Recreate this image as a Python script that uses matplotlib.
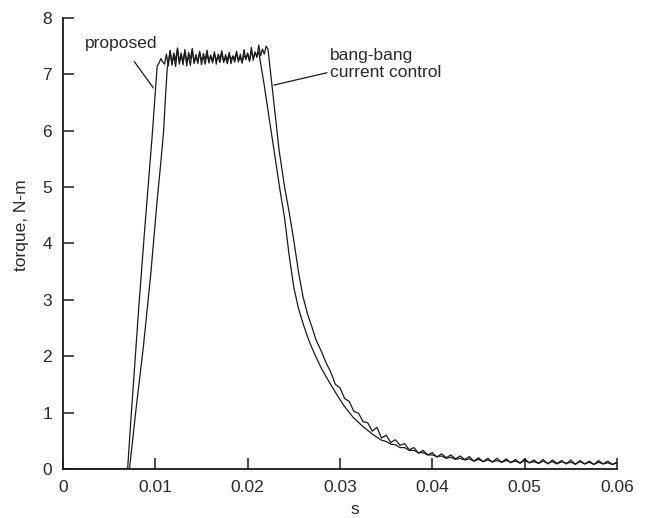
import numpy as np
import matplotlib
matplotlib.use("Agg")
import matplotlib.pyplot as plt

plt.rcParams['font.family'] = ['Liberation Sans', 'DejaVu Sans']

# ---------------- data ----------------
# proposed controller
prop_rise_t = [0.0, 0.0070, 0.0073, 0.0076, 0.0079, 0.0082, 0.0085, 0.0088, 0.0091,
               0.0094, 0.0097, 0.0100, 0.0102, 0.0104, 0.0106, 0.0108]
prop_rise_v = [0, 0, 0.75, 1.45, 2.16, 2.85, 3.5, 4.15, 4.77, 5.4, 6.0, 6.7, 7.15, 7.2, 7.28, 7.22]
prop_plateau_v = [7.18, 7.36, 7.15, 7.42, 7.20, 7.33, 7.14, 7.45, 7.22, 7.38,
                  7.17, 7.40, 7.24, 7.31, 7.16, 7.43, 7.21, 7.35, 7.19, 7.39,
                  7.25, 7.30, 7.18, 7.37, 7.23, 7.33, 7.20, 7.36, 7.26, 7.31,
                  7.21, 7.38, 7.24, 7.29, 7.19, 7.35, 7.27, 7.32, 7.22, 7.37,
                  7.25, 7.30, 7.21, 7.34, 7.28, 7.36, 7.24, 7.41, 7.30, 7.38,
                  7.33]
prop_plateau_span = (0.0110, 0.0210)
prop_fall_t = [0.0212, 0.0218, 0.0224, 0.0229, 0.0235, 0.0240, 0.0245, 0.0250, 0.0255,
               0.0260, 0.0266, 0.0273, 0.0280, 0.0287, 0.0295, 0.0304, 0.0314, 0.0325, 0.0335]
prop_fall_v = [7.40, 6.80, 6.15, 5.60, 4.95, 4.45, 3.78, 3.22, 2.85,
               2.58, 2.29, 2.02, 1.78, 1.58, 1.36, 1.13, 0.92, 0.75, 0.62]
prop_tail_v = [0.51, 0.49, 0.44, 0.43, 0.38, 0.38, 0.33, 0.33, 0.29, 0.29,
               0.25, 0.25, 0.22, 0.23, 0.19, 0.21, 0.17, 0.19, 0.16, 0.18,
               0.14, 0.17, 0.13, 0.16, 0.13, 0.15, 0.12, 0.15, 0.12, 0.14,
               0.11, 0.15, 0.11, 0.13, 0.10, 0.14, 0.10, 0.13, 0.09, 0.13,
               0.10, 0.12, 0.09, 0.13, 0.09, 0.12, 0.08, 0.12, 0.09, 0.11,
               0.08, 0.11]
prop_tail_span = (0.0345, 0.0600)

# bang-bang current control
bb_rise_t = [0.0, 0.0072, 0.0075, 0.0079, 0.0083, 0.0087, 0.0091, 0.0095, 0.0099,
             0.0102, 0.0106, 0.0109, 0.0111, 0.0113]
bb_rise_v = [0, 0, 0.45, 1.05, 1.6, 2.16, 2.8, 3.45, 4.2, 4.77, 5.45, 6.0, 6.6, 7.13]
bb_plateau_v = [7.20, 7.42, 7.16, 7.38, 7.25, 7.47, 7.18, 7.35, 7.22, 7.44,
                7.15, 7.39, 7.27, 7.46, 7.19, 7.33, 7.23, 7.41, 7.17, 7.37,
                7.26, 7.43, 7.20, 7.34, 7.24, 7.40, 7.18, 7.36, 7.28, 7.42,
                7.21, 7.35, 7.25, 7.39, 7.19, 7.33, 7.27, 7.41, 7.22, 7.36,
                7.20, 7.44, 7.26, 7.38, 7.23, 7.48, 7.25, 7.40, 7.30, 7.52,
                7.33, 7.45, 7.36, 7.50]
bb_plateau_span = (0.0114, 0.0220)
bb_fall_t = [0.0222, 0.0228, 0.0234, 0.0240, 0.0245, 0.0250, 0.0255, 0.0260, 0.0265,
             0.0270, 0.0274]
bb_fall_v = [7.45, 6.55, 5.66, 5.00, 4.55, 4.05, 3.50, 3.05, 2.74, 2.50, 2.29]
bb_tail_v = [2.08, 1.88, 1.72, 1.50, 1.44, 1.25, 1.20, 1.02, 0.99, 0.84,
             0.82, 0.67, 0.74, 0.55, 0.60, 0.47, 0.52, 0.42, 0.45, 0.34,
             0.38, 0.28, 0.33, 0.25, 0.29, 0.21, 0.27, 0.20, 0.25, 0.18,
             0.23, 0.17, 0.22, 0.14, 0.20, 0.13, 0.19, 0.12, 0.19, 0.12,
             0.18, 0.11, 0.17, 0.10, 0.18, 0.11, 0.16, 0.10, 0.17, 0.09,
             0.16, 0.10, 0.15, 0.09, 0.16, 0.08, 0.15, 0.09, 0.14, 0.08,
             0.15, 0.09, 0.14, 0.08, 0.12]
bb_tail_span = (0.0280, 0.0600)

x_ticks = [0, 0.01, 0.02, 0.03, 0.04, 0.05, 0.06]
x_tick_labels = ['0', '0.01', '0.02', '0.03', '0.04', '0.05', '0.06']
y_ticks = [0, 1, 2, 3, 4, 5, 6, 7, 8]


def build(rise_t, rise_v, plat_v, plat_span, fall_t, fall_v, tail_v, tail_span):
    pt = np.linspace(plat_span[0], plat_span[1], len(plat_v))
    tt = np.linspace(tail_span[0], tail_span[1], len(tail_v))
    t = np.concatenate([rise_t, pt, fall_t, tt])
    v = np.concatenate([rise_v, plat_v, fall_v, tail_v])
    return t, v


prop_t, prop_v = build(prop_rise_t, prop_rise_v, prop_plateau_v, prop_plateau_span,
                       prop_fall_t, prop_fall_v, prop_tail_v, prop_tail_span)
bb_t, bb_v = build(bb_rise_t, bb_rise_v, bb_plateau_v, bb_plateau_span,
                   bb_fall_t, bb_fall_v, bb_tail_v, bb_tail_span)

# ---------------- figure ----------------
W, H = 650, 518
fig = plt.figure(figsize=(W / 100, H / 100), dpi=100)
ax = fig.add_axes([63 / W, 1 - 469 / H, (617 - 63) / W, (469 - 18) / H])

ink = '#1a1a1a'
txt = '#2a2a2a'
FS = 12.5
ax.plot(bb_t, bb_v, color=ink, lw=0.9)
ax.plot(prop_t, prop_v, color=ink, lw=0.9)

ax.set_xlim(0, 0.06)
ax.set_ylim(0, 8)
ax.set_xticks(x_ticks)
ax.set_xticklabels(x_tick_labels)
ax.set_yticks(y_ticks)

for s in ['top', 'right']:
    ax.spines[s].set_visible(False)
for s in ['left', 'bottom']:
    ax.spines[s].set_linewidth(1.3)
    ax.spines[s].set_color(ink)

ax.tick_params(direction='in', length=8, width=1.1, colors=ink,
               labelsize=FS, pad=8, labelcolor=txt)

ax.set_xlabel('s', fontsize=FS, color=txt)
ax.xaxis.set_label_coords(0.527, -0.074)
ax.set_ylabel('torque, N-m', fontsize=FS, color=txt)
ax.yaxis.set_label_coords(-0.062, 0.54)

ax.annotate('proposed', xy=(0.00978, 6.76), xytext=(0.0063, 7.55),
            fontsize=FS, color=txt, ha='center', va='center',
            arrowprops=dict(arrowstyle='-', lw=0.9, color=ink,
                            shrinkA=7, shrinkB=0))
ax.annotate('bang-bang\ncurrent control', xy=(0.02283, 6.81), xytext=(0.0289, 7.18),
            fontsize=FS, color=txt, ha='left', va='center', linespacing=1.2,
            arrowprops=dict(arrowstyle='-', lw=0.9, color=ink,
                            shrinkA=0, shrinkB=0, relpos=(-0.01, 0.25)))

fig.savefig('out.png', dpi=100)
